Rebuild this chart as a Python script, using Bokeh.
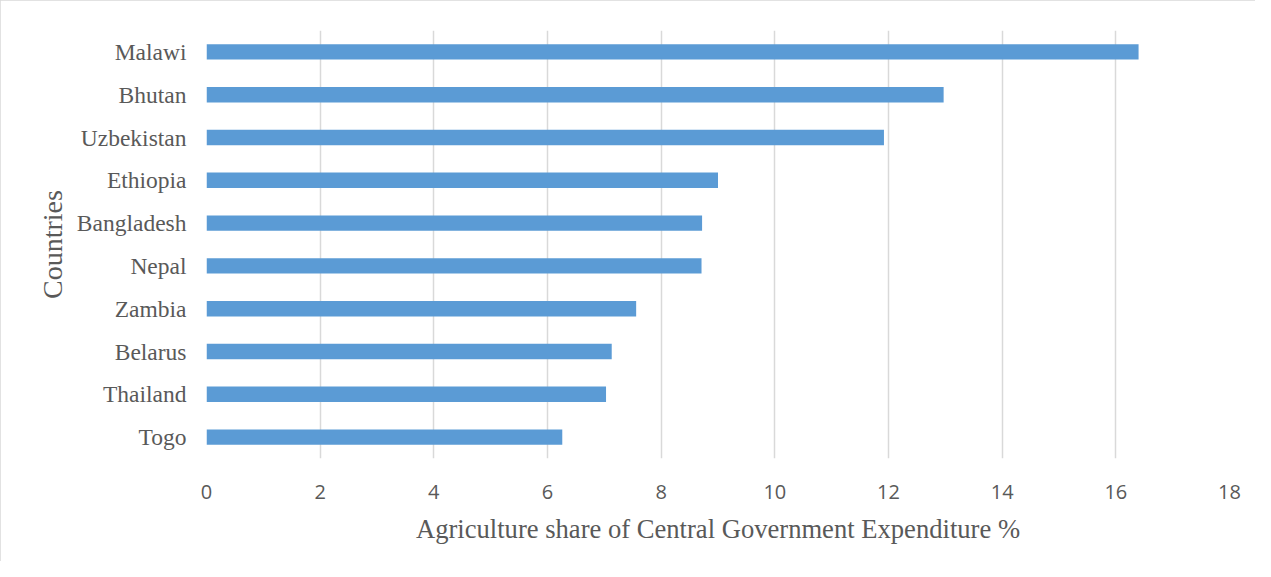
from bokeh.plotting import figure
from bokeh.models import FactorRange, Range1d, FixedTicker
from bokeh.embed import file_html
from bokeh.resources import INLINE

countries = ["Malawi", "Bhutan", "Uzbekistan", "Ethiopia", "Bangladesh",
             "Nepal", "Zambia", "Belarus", "Thailand", "Togo"]
shares = [16.40, 12.97, 11.92, 9.00, 8.72, 8.71, 7.56, 7.13, 7.03, 6.26]
x_ticks = [0, 2, 4, 6, 8, 10, 12, 14, 16, 18]

factors = list(reversed(countries))

p = figure(width=1255, height=561, output_backend="svg", toolbar_location=None,
           y_range=FactorRange(factors=factors, range_padding=0),
           x_range=Range1d(0, 18),
           min_border_left=206, min_border_right=26,
           min_border_top=30, min_border_bottom=103)

p.hbar(y=countries, right=shares, left=0, height=0.36,
       fill_color="#5B9BD5", line_color=None)

p.background_fill_color = "white"
p.border_fill_color = "white"
p.outline_line_color = None
p.styles = {"outline": "1px solid #D9D9D9", "outline-offset": "-1px"}

# x axis
p.xaxis.ticker = FixedTicker(ticks=x_ticks)
p.xaxis.axis_line_color = None
p.xaxis.major_tick_line_color = None
p.xaxis.minor_tick_line_color = None
p.xaxis.major_tick_out = 0
p.xaxis.major_label_standoff = 26
p.xaxis.major_label_text_font = "Open Sans"
p.xaxis.major_label_text_font_size = "20px"
p.xaxis.major_label_text_color = "#595959"
p.xaxis.axis_label = "Agriculture share of Central Government Expenditure %"
p.xaxis.axis_label_text_font = "Liberation Serif"
p.xaxis.axis_label_text_font_size = "26.6px"
p.xaxis.axis_label_text_font_style = "normal"
p.xaxis.axis_label_text_color = "#595959"
p.xaxis.axis_label_standoff = 12

# y axis
p.yaxis.axis_line_color = None
p.yaxis.major_tick_line_color = None
p.yaxis.minor_tick_line_color = None
p.yaxis.major_tick_out = 0
p.yaxis.major_label_standoff = 20
p.yaxis.major_label_text_font = "Liberation Serif"
p.yaxis.major_label_text_font_size = "23.5px"
p.yaxis.major_label_text_color = "#595959"
p.yaxis.axis_label = "Countries"
p.yaxis.axis_label_text_font = "Liberation Serif"
p.yaxis.axis_label_text_font_size = "28px"
p.yaxis.axis_label_text_font_style = "normal"
p.yaxis.axis_label_text_color = "#595959"
p.yaxis.axis_label_standoff = 6

# grid
p.xgrid.grid_line_color = "#D9D9D9"
p.xgrid.grid_line_width = 1.5
p.ygrid.grid_line_color = None

open("out.html", "w").write(file_html(p, INLINE))
